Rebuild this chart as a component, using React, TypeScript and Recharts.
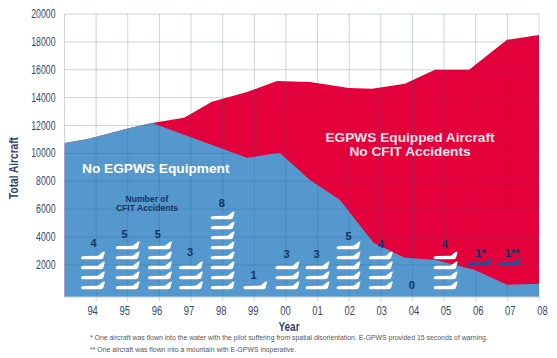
import { Area, ComposedChart, ReferenceLine, Scatter, XAxis, YAxis } from "recharts";

// Breakpoints of both outlines, x is the model year counted from 1900
const totalYears = [93, 93.74, 95.07, 95.77, 96.78, 97.66, 98.77, 99.72, 100.76, 101.99, 102.72, 103.76, 104.71, 105.79, 106.99, 108];
const totalAircraft = [10750, 11040, 11830, 12190, 12550, 13700, 14400, 15200, 15130, 14700, 14630, 15000, 16000, 16000, 18150, 18500];
const noEgpwsYears = [93, 93.74, 95.07, 95.77, 98.77, 99.8, 100.76, 101.7, 102.77, 103.76, 104.7, 105.95, 106.99, 108];
const noEgpwsAircraft = [10750, 11040, 11830, 12190, 9680, 10040, 8100, 6670, 3585, 2510, 2366, 1650, 570, 645];

const yTicks = [2000, 4000, 6000, 8000, 10000, 12000, 14000, 16000, 18000, 20000];
const xTicks = [94, 95, 96, 97, 98, 99, 100, 101, 102, 103, 104, 105, 106, 107, 108];
const gridYears = [93, ...xTicks];

// Accident counts per year
const accidentYears = [93.9, 95, 96.02, 97, 98, 99.03, 100.05, 101, 101.98, 103, 104, 105.05];
const accidentCounts = [4, 5, 5, 3, 8, 1, 3, 3, 5, 4, 0, 4];
const accidentLabels = ["4", "5", "5", "3", "8", "1", "3", "3", "5", "4", "0", "4", "1*", "1**"];
const labelYears = [93.92, 94.9, 95.95, 96.97, 97.97, 98.98, 100.02, 100.97, 101.98, 103, 103.98, 105.02, 106.15, 107.15];
const labelLevels = [3580, 4230, 4230, 2940, 6450, 1290, 2790, 2790, 4090, 3520, 570, 3520, 2860, 2860];
const planeLevels = [430, 1150, 1870, 2580, 3300, 4020, 4730, 5450];
// The two asterisked accidents sit apart from the white stacks
const darkPlaneYears = [106.12, 107.05];
const darkPlaneLevels = [2120, 2120];

const totalData = totalYears.map((x, i) => ({ x, y: totalAircraft[i] }));
const noEgpwsData = noEgpwsYears.map((x, i) => ({ x, y: noEgpwsAircraft[i] }));
const planeData = accidentYears.flatMap((x, i) =>
	planeLevels.slice(0, accidentCounts[i]).map((y) => ({ x, y })),
);
const darkPlaneData = darkPlaneYears.map((x, i) => ({ x, y: darkPlaneLevels[i] }));
const labelData = labelYears.map((x, i) => ({ x, y: labelLevels[i], text: accidentLabels[i] }));

const ARIAL = "'Liberation Sans', Arial, sans-serif";
const NAVY = "#123463";
const GRID = "rgba(47,101,150,0.26)";
const PLANE_PATH = "M-12,0.9 Q-12,-0.9 -9,-0.9 L5,-1.1 L10,-5 L12,-5.2 L10.2,1.4 Q9,2.4 7,2.4 L-9,2.4 Q-12,2.4 -12,0.9Z";

function PlaneShape({ cx, cy }: any) {
	return <path transform={`translate(${cx},${cy})`} fill="#ffffff" d={PLANE_PATH} />;
}

function DarkPlaneShape({ cx, cy }: any) {
	return <path transform={`translate(${cx},${cy})`} fill="#2c4c92" d={PLANE_PATH} />;
}

function CountLabel({ cx, cy, payload }: any) {
	return (
		<text x={cx} y={cy + 4} textAnchor="middle" fontFamily={ARIAL} fontWeight={700} fontSize={11} fill={NAVY}>
			{payload.text}
		</text>
	);
}

function YearTick({ x, y, payload, index }: any) {
	const year = payload.value % 100;
	return (
		<text
			x={x - 3.5 + index * 0.5}
			y={y + 12}
			textAnchor="middle"
			fontFamily={ARIAL}
			fontSize={12}
			textLength={10.5}
			lengthAdjust="spacingAndGlyphs"
			fill="#38486c"
		>
			{String(year).padStart(2, "0")}
		</text>
	);
}

function AircraftTick({ x, y, payload }: any) {
	const label = String(payload.value);
	return (
		<text
			x={x}
			y={y + 4}
			textAnchor="end"
			fontFamily={ARIAL}
			fontSize={12}
			textLength={label.length * 4.85}
			lengthAdjust="spacingAndGlyphs"
			fill="#38486c"
		>
			{label}
		</text>
	);
}

export default function App() {
	return (
		<div style={{ position: "absolute", left: 0, top: 0, width: 557, height: 358, background: "#fff" }}>
			<ComposedChart width={557} height={358} margin={{ top: 14, right: 18, bottom: 0, left: 0 }}>
				<XAxis
					type="number"
					dataKey="x"
					domain={[93, 108]}
					ticks={xTicks}
					interval={0}
					allowDataOverflow
					tick={<YearTick />}
					tickSize={4}
					stroke="#c3d2e2"
					height={61}
				/>
				<YAxis
					type="number"
					dataKey="y"
					domain={[-300, 20000]}
					ticks={yTicks}
					interval={0}
					allowDataOverflow
					width={64.5}
					axisLine={false}
					tickLine={false}
					tickMargin={3}
					tick={<AircraftTick />}
				/>
				<Area
					data={totalData}
					dataKey="y"
					type="linear"
					baseValue={-300}
					stroke="none"
					fill="#e4003a"
					fillOpacity={1}
					dot={false}
					activeDot={false}
					isAnimationActive={false}
				/>
				<Area
					data={noEgpwsData}
					dataKey="y"
					type="linear"
					baseValue={-300}
					stroke="none"
					fill="#5498cd"
					fillOpacity={1}
					dot={false}
					activeDot={false}
					isAnimationActive={false}
				/>
				{yTicks.map((v) => (
					<ReferenceLine key={`h${v}`} y={v} stroke={GRID} />
				))}
				{gridYears.map((v) => (
					<ReferenceLine key={`v${v}`} x={v} stroke={GRID} />
				))}
				<Scatter data={planeData} dataKey="y" shape={<PlaneShape />} isAnimationActive={false} />
				<Scatter data={darkPlaneData} dataKey="y" shape={<DarkPlaneShape />} isAnimationActive={false} />
				<Scatter data={labelData} dataKey="y" shape={<CountLabel />} isAnimationActive={false} />
			</ComposedChart>
			{/* plain text sits in its own layer, the chart would paint its areas over it */}
			<svg width={557} height={358} style={{ position: "absolute", left: 0, top: 0, pointerEvents: "none" }}>
				<text x={82} y={173} fontFamily={ARIAL} fontWeight={700} fontSize={13.7} fill="#fff">
					No EGPWS Equipment
				</text>
				<text x={410} y={142} textAnchor="middle" fontFamily={ARIAL} fontWeight={700} fontSize={13.7} fill="#fbe4e8">
					EGPWS Equipped Aircraft
				</text>
				<text x={410} y={156} textAnchor="middle" fontFamily={ARIAL} fontWeight={700} fontSize={13.7} fill="#fbe4e8">
					No CFIT Accidents
				</text>
				<text x={147} y={202} textAnchor="middle" fontFamily={ARIAL} fontWeight={700} fontSize={8.6} fill={NAVY}>
					Number of
				</text>
				<text x={147} y={211} textAnchor="middle" fontFamily={ARIAL} fontWeight={700} fontSize={8.6} fill={NAVY}>
					CFIT Accidents
				</text>
				<text
					transform="translate(18,168) rotate(-90)"
					textAnchor="middle"
					fontFamily={ARIAL}
					fontWeight={700}
					fontSize={12.5}
					textLength={62}
					lengthAdjust="spacingAndGlyphs"
					fill="#2f3f74"
				>
					Total Aircraft
				</text>
				<text
					x={289}
					y={331}
					textAnchor="middle"
					fontFamily={ARIAL}
					fontWeight={700}
					fontSize={12.5}
					textLength={21}
					lengthAdjust="spacingAndGlyphs"
					fill="#2f3f74"
				>
					Year
				</text>
				<text x={90} y={340} fontFamily={ARIAL} fontSize={6.9} fill="#555">
					* One aircraft was flown into the water with the pilot suffering from spatial disorientation. E-GPWS provided 15 seconds of warning.
				</text>
				<text x={90} y={352} fontFamily={ARIAL} fontSize={6.9} fill="#555">
					** One aircraft was flown into a mountain with E-GPWS inoperative.
				</text>
			</svg>
		</div>
	);
}
